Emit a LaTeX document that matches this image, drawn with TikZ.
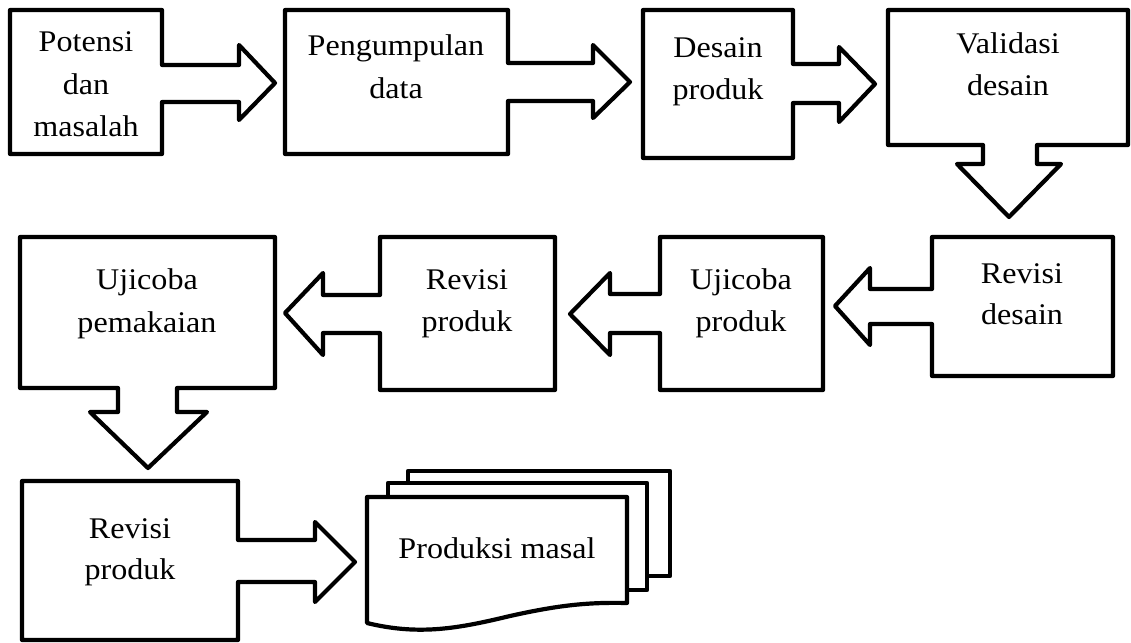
\documentclass[tikz,border=0pt]{standalone}
\usepackage{fontspec}
\setmainfont{Liberation Serif}[FakeStretch=1.07]
\begin{document}
\begin{tikzpicture}[x=1pt,y=-1pt,
  shp/.style={draw=black, line width=4.2pt, line join=round, fill=white},
  lbl/.style={anchor=base, inner sep=0pt, font=\fontsize{30}{36}\selectfont}]
\useasboundingbox (0,0) rectangle (1131,642);
% Row 1
\draw[shp] (10,10) -- (162,10) -- (162,65) -- (239,65) -- (239,45) -- (275,83) -- (239,120) -- (239,102) -- (162,102) -- (162,154) -- (10,154) -- cycle;
\draw[shp] (285,10) -- (508,10) -- (508,63) -- (593,63) -- (593,45) -- (630,82) -- (593,118) -- (593,101) -- (508,101) -- (508,154) -- (285,154) -- cycle;
\draw[shp] (643,10) -- (793,10) -- (793,64) -- (839,64) -- (839,47) -- (875,84) -- (839,122) -- (839,103) -- (793,103) -- (793,158) -- (643,158) -- cycle;
\draw[shp] (888,10) -- (1128,10) -- (1128,145) -- (1037,145) -- (1037,164) -- (1061,164) -- (1009,217) -- (957,164) -- (983,164) -- (983,145) -- (888,145) -- cycle;
% Row 2
\draw[shp] (932,237) -- (1113,237) -- (1113,376) -- (932,376) -- (932,324) -- (870,324) -- (870,345) -- (835,306) -- (870,268) -- (870,289) -- (932,289) -- cycle;
\draw[shp] (660,237) -- (823,237) -- (823,390) -- (660,390) -- (660,333) -- (610,333) -- (610,355) -- (570,314) -- (610,273) -- (610,294) -- (660,294) -- cycle;
\draw[shp] (380,237) -- (555,237) -- (555,390) -- (380,390) -- (380,333) -- (323,333) -- (323,355) -- (285,313) -- (323,273) -- (323,295) -- (380,295) -- cycle;
\draw[shp] (20,237) -- (275,237) -- (275,388) -- (177,388) -- (177,412) -- (207,412) -- (148,468) -- (90,412) -- (118,412) -- (118,388) -- (20,388) -- cycle;
% Row 3
\draw[shp] (22,481) -- (238,481) -- (238,540) -- (315,540) -- (315,522) -- (355,562) -- (315,602) -- (315,582) -- (238,582) -- (238,640) -- (22,640) -- cycle;
\draw[shp] (408,471) rectangle (670,576);
\draw[shp] (388,483) rectangle (647,590);
\draw[shp] (367,497) -- (627,497) -- (627,603) .. controls (585,602) and (555,606) .. (510,616) .. controls (460,628) and (420,636) .. (367,623) -- cycle;
% Labels
\node[lbl] (p1) at (86,52) {Potensi};
\node[lbl] (p2) at (86,94) {dan};
\node[lbl] (p3) at (86,136) {masalah};
\node[lbl] (g1) at (396,56) {Pengumpulan};
\node[lbl] (g2) at (396,98) {data};
\node[lbl] (d1) at (718,57) {Desain};
\node[lbl] (d2) at (718,99) {produk};
\node[lbl] (v1) at (1008,53) {Validasi};
\node[lbl] (v2) at (1008,95) {desain};
\node[lbl] (rd1) at (1022,283) {Revisi};
\node[lbl] (rd2) at (1022,324) {desain};
\node[lbl] (up1) at (741,289) {Ujicoba};
\node[lbl] (up2) at (741,331) {produk};
\node[lbl] (rp1) at (467,289) {Revisi};
\node[lbl] (rp2) at (467,331) {produk};
\node[lbl] (um1) at (147,289) {Ujicoba};
\node[lbl] (um2) at (147,332) {pemakaian};
\node[lbl] (rq1) at (130,538) {Revisi};
\node[lbl] (rq2) at (130,579) {produk};
\node[lbl] (pm) at (497,558) {Produksi masal};
\end{tikzpicture}
\end{document}
